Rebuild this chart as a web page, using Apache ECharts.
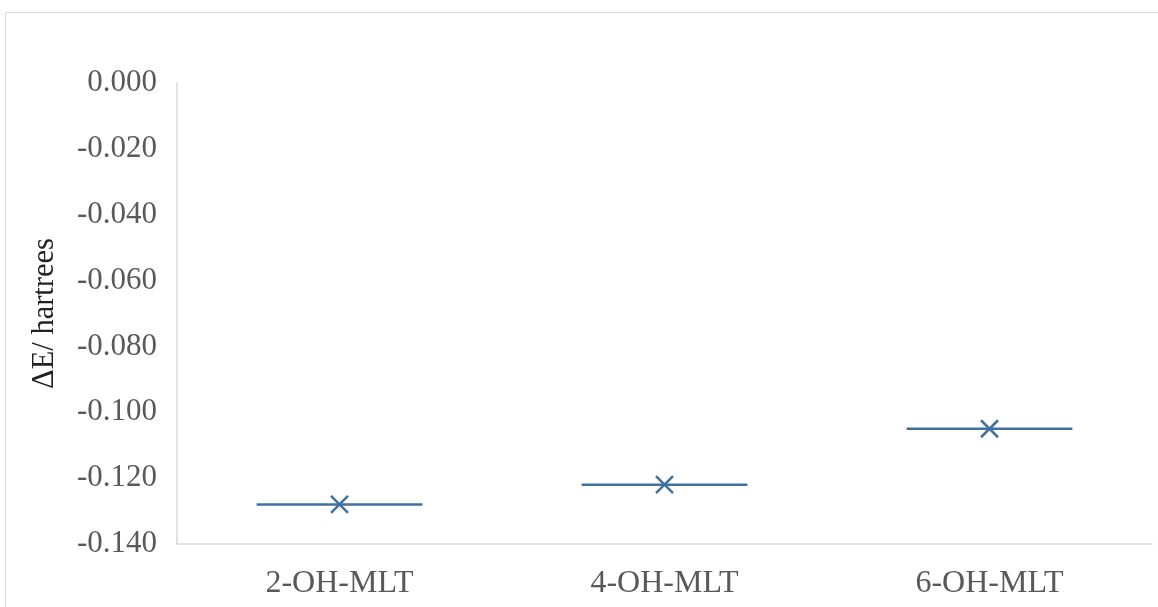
<!DOCTYPE html>
<html>
<head>
<meta charset="utf-8">
<script src="https://cdn.jsdelivr.net/npm/echarts@6/dist/echarts.min.js"></script>
<style>html,body{margin:0;padding:0;background:#fff}#c{width:1158px;height:607px}</style>
</head>
<body>
<div id="c"></div>
<script>
const categories = ['2-OH-MLT', '4-OH-MLT', '6-OH-MLT'];
const deltaE = [-0.128, -0.122, -0.105];
const yMin = -0.14, yMax = 0, yStep = 0.02;
const yAxisTitle = 'ΔE/ hartrees';

const lineColor = '#41709f';
const font = 'Liberation Serif';
const chart = echarts.init(document.getElementById('c'), null, {renderer: 'canvas'});
chart.setOption({
  backgroundColor: '#fff',
  animation: false,
  graphic: [{
    type: 'rect', left: 3, top: 10, silent: true,
    shape: {width: 1170, height: 620},
    style: {fill: 'none', stroke: '#d9d9d9', lineWidth: 1}
  }],
  grid: {left: 177, top: 83, right: 6, bottom: 63, containLabel: false},
  xAxis: {
    type: 'category', data: categories, boundaryGap: true,
    axisLine: {show: true, onZero: false, lineStyle: {color: '#d9d9d9', width: 1.5}},
    axisTick: {show: false},
    axisLabel: {color: '#595959', fontFamily: font, fontSize: 32, margin: 24},
    splitLine: {show: false}
  },
  yAxis: {
    type: 'value', min: yMin, max: yMax, interval: yStep,
    name: yAxisTitle, nameLocation: 'middle', nameGap: 117, nameRotate: 90,
    nameTextStyle: {color: '#222', fontFamily: font, fontSize: 30.5},
    axisLine: {show: true, lineStyle: {color: '#d9d9d9', width: 1.5}},
    axisTick: {show: false},
    splitLine: {show: false},
    axisLabel: {color: '#595959', fontFamily: font, fontSize: 31, margin: 20,
      padding: [6, 0, 0, 0],
      formatter: v => v.toFixed(3)}
  },
  series: [{
    type: 'custom',
    data: deltaE.map((v, i) => [i, v]),
    renderItem: function (params, api) {
      const p = api.coord([api.value(0), api.value(1)]);
      const bw = api.size([1, 0])[0];
      const hw = bw * 0.255;
      const m = 8.5;
      const st = {stroke: lineColor, lineWidth: 2.5, fill: null};
      return {type: 'group', children: [
        {type: 'line', shape: {x1: p[0] - hw, y1: p[1], x2: p[0] + hw, y2: p[1]}, style: st},
        {type: 'line', shape: {x1: p[0] - m, y1: p[1] - m, x2: p[0] + m, y2: p[1] + m}, style: st},
        {type: 'line', shape: {x1: p[0] - m, y1: p[1] + m, x2: p[0] + m, y2: p[1] - m}, style: st}
      ]};
    }
  }]
});
</script>
</body>
</html>
